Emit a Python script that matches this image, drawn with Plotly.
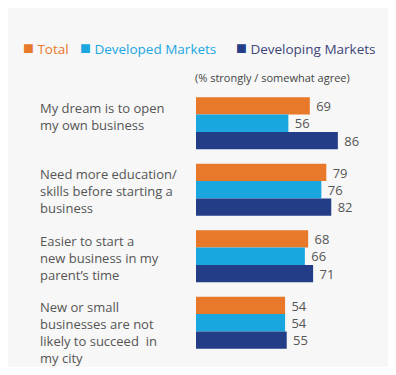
import plotly.graph_objects as go

categories = [
    "My dream is to open<br>my own business",
    "Need more education/<br>skills before starting a<br>business",
    "Easier to start a<br>new business in my<br>parent’s time",
    "New or small<br>businesses are not<br>likely to succeed  in<br>my city",
]
total = [69, 79, 68, 54]
developed = [56, 76, 66, 54]
developing = [86, 82, 71, 55]

series_names = ["Total", "Developed Markets", "Developing Markets"]
series_values = [total, developed, developing]
bar_colors = ["#e8782a", "#1aa6df", "#233d87"]
legend_text_colors = ["#e8782a", "#1aa6df", "#3c4677"]
legend_x_px = [13, 70, 226]

FONT = "Open Sans"
W, H = 380, 359
L, R, T, B = 188, 0, 82, 11

fig = go.Figure()
for name, vals, col in zip(series_names, series_values, bar_colors):
    fig.add_trace(go.Bar(
        y=categories, x=vals, orientation="h", name=name,
        marker=dict(color=col, line=dict(width=0)),
        text=vals, texttemplate=" %{x}", textposition="outside",
        textfont=dict(size=15, color="#555555", family=FONT),
        cliponaxis=False, hoverinfo="skip", showlegend=False,
    ))

annotations = []
for i, c in enumerate(categories):
    annotations.append(dict(
        text=c, xref="paper", yref="y", x=(30 - L) / (W - L - R), y=i - 0.40,
        xanchor="left", yanchor="top", align="left", showarrow=False,
        font=dict(size=13, color="#555555", family=FONT),
    ))
annotations.append(dict(
    text="(% strongly / somewhat agree)", xref="paper", yref="paper",
    x=-0.015, y=1.0, yshift=3, xanchor="left", yanchor="bottom", showarrow=False,
    font=dict(size=11, color="#444444", family=FONT),
))
for name, bcol, tcol, px in zip(series_names, bar_colors, legend_text_colors, legend_x_px):
    annotations.append(dict(
        text=f"<span style='color:{bcol};font-size:18px'>■</span> {name}",
        xref="paper", yref="paper", x=(px - L) / (W - L - R), y=1.0, yshift=43,
        xanchor="left", yanchor="middle", showarrow=False,
        font=dict(size=13.5, color=tcol, family=FONT),
    ))

fig.update_layout(
    width=W, height=H,
    margin=dict(l=L, r=R, t=T, b=B, autoexpand=False),
    paper_bgcolor="#f7f7f7", plot_bgcolor="#f7f7f7",
    barmode="group", bargap=0.22, bargroupgap=0,
    font=dict(family=FONT, color="#555555"),
    showlegend=False,
    xaxis=dict(range=[0, 116.4], visible=False, automargin=False),
    yaxis=dict(categoryorder="array", categoryarray=categories,
               range=[3.5, -0.5], showticklabels=False, automargin=False,
               showgrid=False, zeroline=False),
    annotations=annotations,
)

fig.write_html("out.html")
